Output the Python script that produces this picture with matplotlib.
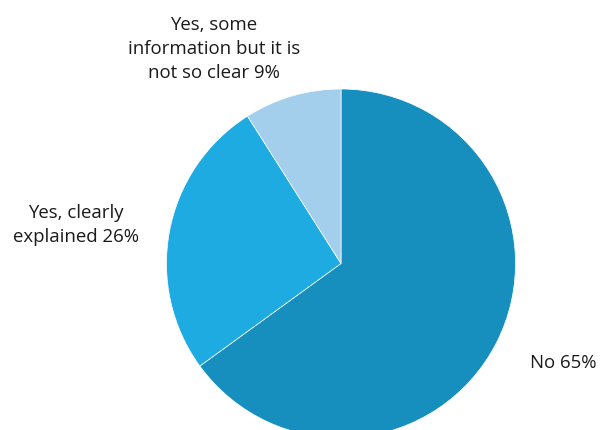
import matplotlib.pyplot as plt

# Survey answers, clockwise from 12 o'clock
labels = ["No", "Yes, clearly\nexplained", "Yes, some\ninformation but it is\nnot so clear"]
shares = [65, 26, 9]
colors = ["#168fbf", "#1eabe2", "#a3cfed"]

W, H = 601, 431
fig = plt.figure(figsize=(W / 100, H / 100), dpi=100)
ax = fig.add_axes([0, 0, 1, 1])

# work in pixel units: y measured from the bottom
cx, cy, r = 341, H - 264.5, 174.5
ax.pie(shares, colors=colors, startangle=90, counterclock=False,
       center=(cx, cy), radius=r,
       wedgeprops=dict(edgecolor="white", linewidth=0.5))
ax.set_xlim(0, W)
ax.set_ylim(0, H)
ax.set_aspect("auto")
ax.axis("off")

font = dict(family=["Open Sans", "DejaVu Sans"], fontsize=13.4, color="#1a1a1a",
            linespacing=1.45)
ax.text(214, H - 49, f"{labels[2]} {shares[2]}%", ha="center", va="center", **font)
ax.text(76, H - 225, f"{labels[1]} {shares[1]}%", ha="center", va="center", **font)
ax.text(530, H - 363, f"{labels[0]} {shares[0]}%", ha="left", va="center", **font)

fig.savefig("out.png", dpi=100)
